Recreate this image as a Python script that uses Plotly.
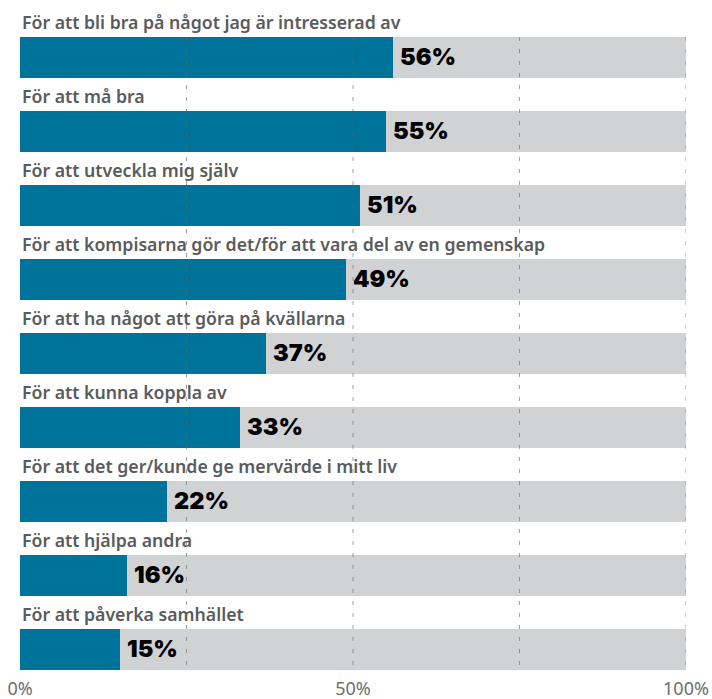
import plotly.graph_objects as go

categories = [
    "För att bli bra på något jag är intresserad av",
    "För att må bra",
    "För att utveckla mig själv",
    "För att kompisarna gör det/för att vara del av en gemenskap",
    "För att ha något att göra på kvällarna",
    "För att kunna koppla av",
    "För att det ger/kunde ge mervärde i mitt liv",
    "För att hjälpa andra",
    "För att påverka samhället",
]
values = [56, 55, 51, 49, 37, 33, 22, 16, 15]
full = [100] * len(values)
tick_vals = [0, 50, 100]
tick_text = ["0%", "50%", "100%"]
grid_vals = [25, 50, 75, 100]

BLUE = "#00739b"
GRAY = "#d1d2d4"
BAR_W = 0.554
n = len(categories)
ypos = list(range(n))

fig = go.Figure()
fig.add_trace(go.Bar(x=full, y=ypos, orientation="h", width=BAR_W,
                     marker=dict(color=GRAY, line=dict(width=0)),
                     hoverinfo="skip", showlegend=False))
fig.add_trace(go.Bar(x=values, y=ypos, orientation="h", width=BAR_W,
                     marker=dict(color=BLUE, line=dict(width=0)),
                     showlegend=False))

for i, (c, v) in enumerate(zip(categories, values)):
    fig.add_annotation(x=0, y=i - BAR_W / 2, xref="x", yref="y", text=c,
                       showarrow=False, xanchor="left", yanchor="bottom",
                       xshift=0, yshift=1,
                       font=dict(family="Noto Sans", size=17.7, color="#5a5b5d", weight=600))
    fig.add_annotation(x=v, y=i, xref="x", yref="y", text=f"{v}%",
                       showarrow=False, xanchor="left", yanchor="middle",
                       xshift=5, yshift=1,
                       font=dict(family="Inter", size=23.5, color="#000000", weight=900))

for g in grid_vals:
    fig.add_shape(type="line", xref="x", yref="y", x0=g, x1=g,
                  y0=-BAR_W / 2, y1=n - 1 + BAR_W / 2, layer="above",
                  line=dict(color="rgba(100,100,100,0.6)", width=1, dash="4px,8px"))

fig.update_layout(
    width=712, height=699,
    margin=dict(l=20, r=26, t=0, b=23),
    plot_bgcolor="white", paper_bgcolor="white",
    barmode="overlay", bargap=0,
    xaxis=dict(range=[0, 100], tickvals=tick_vals, ticktext=tick_text,
               showgrid=False, zeroline=False, showline=False, ticks="",
               tickfont=dict(family="Noto Sans", size=18, color="#6d6e70"),
               fixedrange=True),
    yaxis=dict(range=[8.358, -0.777], showticklabels=False, showgrid=False,
               zeroline=False, showline=False, fixedrange=True),
)

fig.write_html("out.html")
